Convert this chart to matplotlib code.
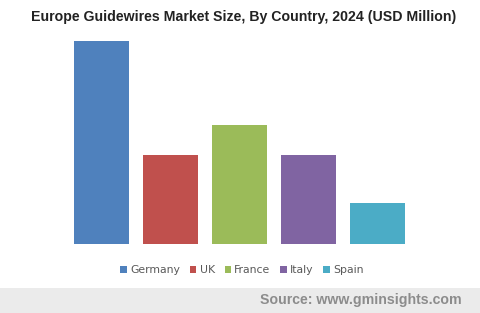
import matplotlib.pyplot as plt
from matplotlib.patches import Patch, Rectangle

countries = ['Germany', 'UK', 'France', 'Italy', 'Spain']
market_size = [406, 178, 238, 178, 82]
colors = ['#4f81bd', '#c0504d', '#9bbb59', '#8064a2', '#4bacc6']

W, H = 480, 313
fig = plt.figure(figsize=(W / 100, H / 100), dpi=100)

# footer band
fig.patches.append(Rectangle((0, 0), 1, 25 / H, transform=fig.transFigure,
                             facecolor='#ebebeb', edgecolor='none', zorder=0))

ax = fig.add_axes([67 / W, (H - 244) / H, 345 / W, 203 / H])
ax.bar(range(len(countries)), market_size, width=0.8, color=colors)
ax.set_xlim(-0.5, len(countries) - 0.5)
ax.set_ylim(0, max(market_size))
ax.axis('off')

fig.text(244 / W, 1 - 17 / H, 'Europe Guidewires Market Size, By Country, 2024 (USD Million)',
         ha='center', va='center', fontsize=10.2, fontweight='bold',
         family='Liberation Sans', color='#222222')

handles = [Patch(facecolor=c, edgecolor='none') for c in colors]
fig.legend(handles, countries, loc='center', bbox_to_anchor=(242 / W, 1 - 270 / H),
           ncol=5, frameon=False, fontsize=7.8, handlelength=0.6, handleheight=0.6,
           handletextpad=0.3, columnspacing=0.9, labelcolor='#595959')

fig.text(462 / W, 1 - 300 / H, 'Source: www.gminsights.com', ha='right', va='center',
         fontsize=10.2, fontweight='bold', family='Liberation Sans', color='#8c8c8c')

fig.savefig('out.png', dpi=100)
